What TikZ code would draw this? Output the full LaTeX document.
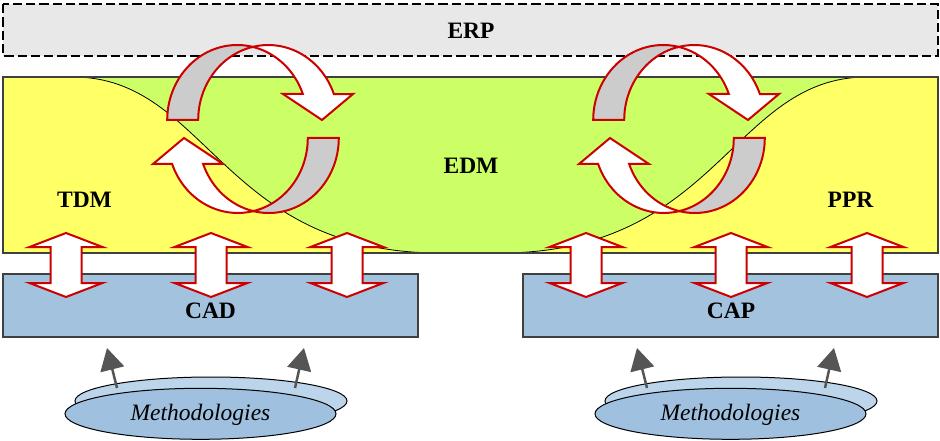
\documentclass[tikz,border=0pt]{standalone}
\usepackage{fontspec}
\setmainfont{Liberation Serif}
\usetikzlibrary{arrows.meta}
\definecolor{ylw}{HTML}{FFFF66}
\definecolor{grn}{HTML}{CCFF66}
\definecolor{erpgray}{HTML}{E8E8E8}
\definecolor{bord}{HTML}{404040}
\definecolor{boxblue}{HTML}{A2C2DE}
\definecolor{ellfront}{HTML}{9FC1DF}
\definecolor{ellback}{HTML}{BCD5EA}
\definecolor{arrred}{HTML}{CC0000}
\definecolor{arrgray}{HTML}{CCCCCC}
\definecolor{methgray}{HTML}{555555}
\tikzset{
 lbl/.style={font=\fontsize{23.5}{28}\selectfont\bfseries, inner sep=0pt},
 methlbl/.style={font=\fontsize{23.5}{28}\selectfont\itshape, inner sep=0pt},
 redarrow/.style={draw=arrred, line width=2pt, fill=white, line join=miter},
 twistback/.style={draw=arrred, line width=2pt, fill=arrgray},
 methup/.style={draw=methgray, line width=2.5pt, -{Triangle[length=22pt,width=24pt]}},
 layerbox/.style={draw=bord, line width=1.5pt},
 dblarrow/.pic={
  \draw[redarrow] (0,233) -- (36.5,247) -- (15.5,247) -- (15.5,283) -- (36.5,283) -- (0,297)
   -- (-36.5,283) -- (-15.5,283) -- (-15.5,247) -- (-36.5,247) -- cycle;
 },
 cycarrow/.pic={
  \foreach \r in {0,180}{
   \begin{scope}[rotate=\r]
    \draw[twistback] (-85.8,-9) arc[start angle=180,end angle=282.8,x radius=70,y radius=75]
      arc[start angle=257.2,end angle=180,x radius=70,y radius=75] -- cycle;
    \draw[redarrow] (-0.3,-82.1) arc[start angle=257.2,end angle=339.7,x radius=70,y radius=75]
      -- (100,-35) -- (69,-9) -- (30,-35) -- (49.85,-35)
      arc[start angle=339.7,end angle=282.8,x radius=70,y radius=75] -- cycle;
   \end{scope}
  }
 },
}
\begin{document}
\begin{tikzpicture}[x=1pt,y=-1pt]
\useasboundingbox (0,0) rectangle (940,441);
% ERP
\draw[draw=black, line width=1.8pt, dash pattern=on 9.3pt off 4pt, fill=erpgray] (3,4) rectangle (938,56);
\node[lbl] (erp) at (471,31) {ERP};
% main layer
\fill[ylw] (3,77) rectangle (938,253);
\fill[grn] (73,77) .. controls (208,77) and (221,253) .. (440,253) -- (500,253)
  .. controls (719,253) and (732,77) .. (867,77) -- cycle;
\draw[line width=0.8pt] (73,77) .. controls (208,77) and (221,253) .. (440,253);
\draw[line width=0.8pt] (500,253) .. controls (719,253) and (732,77) .. (867,77);
\draw[layerbox] (3,77) rectangle (938,253);
\node[lbl] (tdm) at (84.5,199.5) {TDM};
\node[lbl] (edm) at (471,165.5) {EDM};
\node[lbl] (ppr) at (850.5,199.5) {PPR};
% CAD / CAP
\draw[layerbox, fill=boxblue] (3,274) rectangle (418,337);
\draw[layerbox, fill=boxblue] (523,274) rectangle (938,337);
\node[lbl] (cad) at (210.5,311) {CAD};
\node[lbl] (cap) at (731,311) {CAP};
% double arrows
\foreach \xx in {66,211,347,586,731,867}{\pic at (\xx,0) {dblarrow};}
% cycles
\pic at (253,129) {cycarrow};
\pic at (679,129) {cycarrow};
% methodologies left
\draw[fill=ellback, line width=1pt] (211,401) ellipse[x radius=136, y radius=24];
\draw[fill=ellfront, line width=1pt] (200.5,413.8) ellipse[x radius=135.5, y radius=25.5];
\node[methlbl] (meth1) at (200.5,415) {Methodologies};
\coordinate (m1a) at (117,388); \coordinate (m1b) at (107,348);
\coordinate (m2a) at (295,388); \coordinate (m2b) at (304,348);
\draw[methup] (m1a) -- (m1b);
\draw[methup] (m2a) -- (m2b);
% methodologies right
\draw[fill=ellback, line width=1pt] (741,401) ellipse[x radius=136, y radius=24];
\draw[fill=ellfront, line width=1pt] (730.5,413.8) ellipse[x radius=135.5, y radius=25.5];
\node[methlbl] (meth2) at (730.5,415) {Methodologies};
\coordinate (m3a) at (647,388); \coordinate (m3b) at (637,348);
\coordinate (m4a) at (825,388); \coordinate (m4b) at (834,348);
\draw[methup] (m3a) -- (m3b);
\draw[methup] (m4a) -- (m4b);
\end{tikzpicture}
\end{document}
